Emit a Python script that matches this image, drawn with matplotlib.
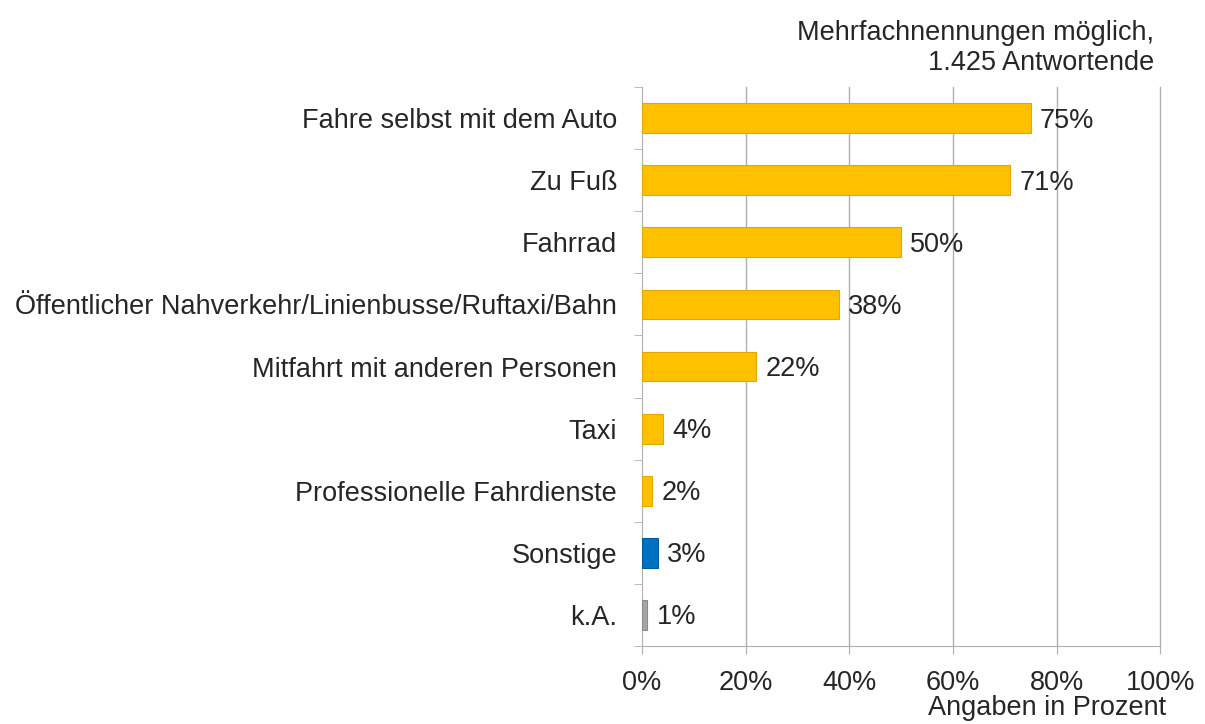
import numpy as np
import matplotlib.pyplot as plt

# Verkehrsmittel, Mehrfachnennungen
categories = ["Fahre selbst mit dem Auto", "Zu Fuß", "Fahrrad",
              "Öffentlicher Nahverkehr/Linienbusse/Ruftaxi/Bahn",
              "Mitfahrt mit anderen Personen", "Taxi",
              "Professionelle Fahrdienste", "Sonstige", "k.A."]
values = [75, 71, 50, 38, 22, 4, 2, 3, 1]
bar_colors = ["#FFC000"] * 7 + ["#0070C0", "#A6A6A6"]
edge_colors = ["#E0A800"] * 7 + ["#005A9E", "#8C8C8C"]
x_ticks = [0, 20, 40, 60, 80, 100]

plt.rcParams['font.family'] = ['Liberation Sans', 'DejaVu Sans']
grid_col = "#B0B0B0"
txt_col = "#262626"
fs = 19.5

fig = plt.figure(figsize=(12.05, 7.24), dpi=100)
ax = fig.add_axes([0.5328, 0.1077, 0.4300, 0.7721])

y = np.arange(len(categories))
ax.barh(y, values, height=0.48, color=bar_colors, edgecolor=edge_colors,
        linewidth=0.8, zorder=3)
for yi, v in zip(y, values):
    ax.text(v + 1.8, yi + 0.04, f"{v}%", va="center", ha="left", fontsize=fs,
            color=txt_col)

ax.set_ylim(len(categories) - 0.5, -0.5)
ax.set_xlim(0, 100)
ax.set_yticks(y)
ax.set_yticklabels(categories, fontsize=fs, color=txt_col)
ax.set_yticks(np.arange(-0.5, len(categories), 1), minor=True)
ax.tick_params(axis="y", which="major", length=0, pad=18)
ax.tick_params(axis="y", which="minor", length=6, color=grid_col, direction="out")

ax.set_xticks(x_ticks)
ax.set_xticklabels([f"{t}%" for t in x_ticks], fontsize=fs, color=txt_col)
ax.tick_params(axis="x", length=6, color=grid_col, pad=11)
for t in x_ticks[1:]:
    ax.axvline(t, color=grid_col, linewidth=1, zorder=0, clip_on=False)

for s in ["top", "right"]:
    ax.spines[s].set_visible(False)
ax.spines["left"].set_color(grid_col)
ax.spines["bottom"].set_color(grid_col)

fig.text(0.958, 0.972, "Mehrfachnennungen möglich,\n1.425 Antwortende",
         ha="right", va="top", fontsize=fs, color=txt_col, linespacing=1.2)
fig.text(0.968, 0.004, "Angaben in Prozent", ha="right", va="bottom",
         fontsize=fs, color=txt_col)

fig.savefig("out.png", dpi=100)
